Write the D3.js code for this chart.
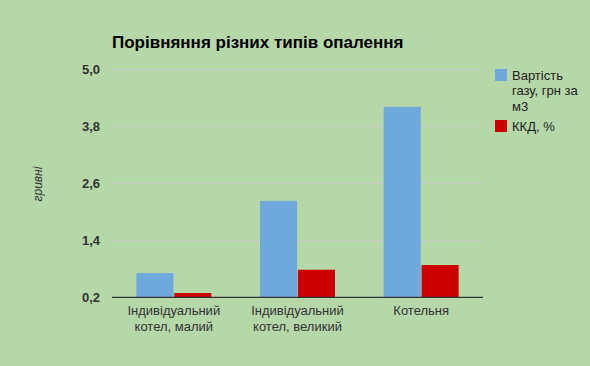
<!DOCTYPE html>
<html><head><meta charset="utf-8">
<script src="https://cdn.jsdelivr.net/npm/d3@7"></script>
<style>body{margin:0;background:#b6d7a8;}svg{display:block;font-family:"Liberation Sans",Arial,sans-serif;}</style>
</head><body>
<svg id="c" width="590" height="366"></svg>
<script>
const categories = [["Індивідуальний","котел, малий"],["Індивідуальний","котел, великий"],["Котельня"]];
const seriesNames = ["Вартість газу, грн за м3","ККД, %"];
const legendLines = [["Вартість","газу, грн за","м3"],["ККД, %"]];
const gasCost = [0.71, 2.23, 4.21];
const efficiency = [0.29, 0.78, 0.88];
const yTicks = [0.2, 1.4, 2.6, 3.8, 5.0];
const colors = ["#6fa8dc", "#cc0000"];

(function(){
const svg = d3.select("#c");
svg.append("rect").attr("width",590).attr("height",366).attr("fill","#b6d7a8");
const pLeft=112, pRight=483, pTop=69.3, pBottom=297.3;
const y = d3.scaleLinear().domain([0.2,5.0]).range([pBottom,pTop]);
const x0 = d3.scaleBand().domain(d3.range(categories.length)).range([pLeft,pRight]).paddingInner(0.394).paddingOuter(0.197);
const x1 = d3.scaleBand().domain([0,1]).range([0,x0.bandwidth()]).paddingInner(0.02);

svg.append("text").attr("x",112).attr("y",48).attr("font-size",17).attr("font-weight","bold").attr("fill","#000").text("Порівняння різних типів опалення");

svg.append("g").selectAll("line").data(yTicks.slice(1)).join("line")
  .attr("x1",pLeft).attr("x2",pRight).attr("y1",d=>Math.round(y(d))+0.5).attr("y2",d=>Math.round(y(d))+0.5)
  .attr("stroke","#cccccc").attr("stroke-width",1);

const fmt = d=>d3.format(".1f")(d).replace(".",",");
const yAxis = d3.axisLeft(y).tickValues(yTicks).tickFormat(fmt).tickSize(0).tickPadding(12);
const ga = svg.append("g").attr("transform",`translate(${pLeft},0)`).call(yAxis);
ga.select(".domain").remove();
ga.selectAll("text").attr("font-size",13).attr("font-weight","bold").attr("fill","#333").attr("font-family","Liberation Sans, Arial, sans-serif");

const data = [gasCost, efficiency];
categories.forEach((c,i)=>{
  data.forEach((s,j)=>{
    svg.append("rect").attr("x",x0(i)+x1(j)).attr("width",x1.bandwidth())
      .attr("y",y(s[i])).attr("height",pBottom-y(s[i])).attr("fill",colors[j]);
  });
});

svg.append("line").attr("x1",pLeft).attr("x2",pRight).attr("y1",pBottom).attr("y2",pBottom).attr("stroke","#333").attr("stroke-width",1.3);

categories.forEach((lines,i)=>{
  const cx = x0(i)+x0.bandwidth()/2;
  lines.forEach((t,k)=>{
    svg.append("text").attr("x",cx).attr("y",315+k*16).attr("text-anchor","middle")
      .attr("font-size",13).attr("fill","#333").text(t);
  });
});

svg.append("text").attr("transform","translate(42,184) rotate(-90)").attr("text-anchor","middle")
  .attr("font-size",12).attr("font-style","italic").attr("fill","#333").text("гривні");

const ly = [69, 120];
legendLines.forEach((lines,j)=>{
  svg.append("rect").attr("x",495).attr("y",ly[j]).attr("width",12).attr("height",12).attr("fill",colors[j]);
  lines.forEach((t,k)=>{
    svg.append("text").attr("x",512).attr("y",ly[j]+10.5+k*15.5).attr("font-size",13).attr("fill","#222").text(t);
  });
});
})();
</script>
</body></html>
